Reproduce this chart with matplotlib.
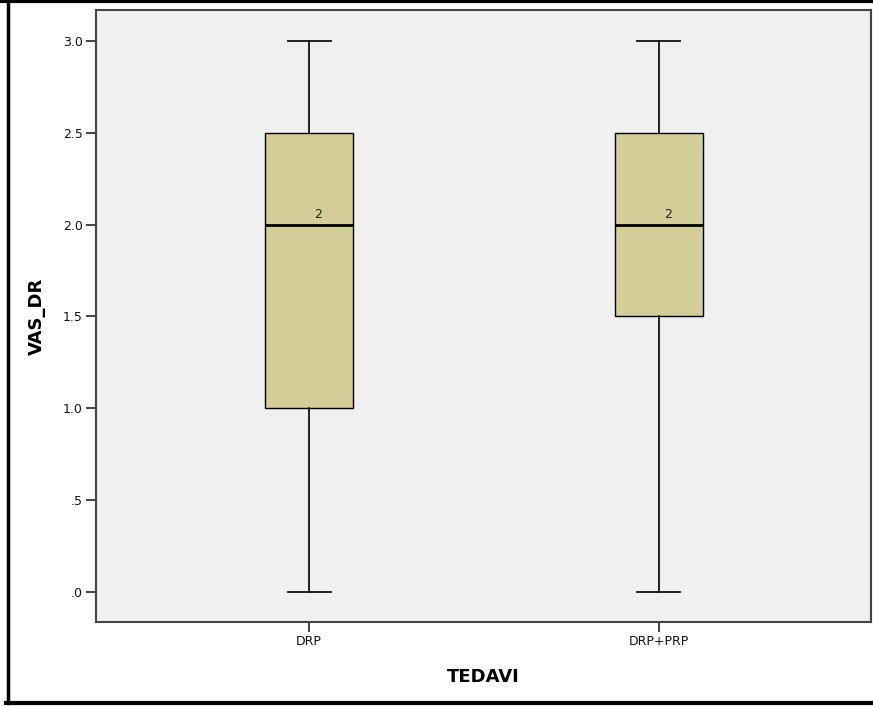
import matplotlib.pyplot as plt
from matplotlib.lines import Line2D

groups = ["DRP", "DRP+PRP"]
mins = [0.0, 0.0]
q1s = [1.0, 1.5]
medians = [2.0, 2.0]
q3s = [2.5, 2.5]
maxs = [3.0, 3.0]
yticks = [0.0, 0.5, 1.0, 1.5, 2.0, 2.5, 3.0]
ytick_labels = [".0", ".5", "1.0", "1.5", "2.0", "2.5", "3.0"]

fig = plt.figure(figsize=(8.73, 7.06), dpi=100)
W, H = 873, 706
ax = fig.add_axes([96 / W, 1 - 622 / H, (871 - 96) / W, (622 - 10) / H])
ax.set_facecolor("#f0f0f0")

stats = []
for i, g in enumerate(groups):
    stats.append(dict(label=g, whislo=mins[i], q1=q1s[i], med=medians[i],
                      q3=q3s[i], whishi=maxs[i], fliers=[]))

ax.bxp(stats, positions=[1, 2], widths=0.251, patch_artist=True,
       showfliers=False,
       boxprops=dict(facecolor="#d3ce97", edgecolor="black", linewidth=1),
       medianprops=dict(color="black", linewidth=2),
       whiskerprops=dict(color="#111111", linewidth=1.3),
       capprops=dict(color="#111111", linewidth=1.3),
       capwidths=0.123)

for i, m in enumerate(medians):
    ax.text(i + 1 + 0.027, m + 0.02, "%g" % m, fontsize=9, ha="center",
            va="bottom", color="#222222")

ax.set_xlim(0.391, 2.606)
ax.set_ylim(-0.163, 3.168)
ax.set_yticks(yticks)
ax.set_yticklabels(ytick_labels)
ax.tick_params(labelsize=9, colors="#333333", length=7.5, width=1.3, pad=2)
ax.tick_params(labelcolor="#111111")
for s in ax.spines.values():
    s.set_color("#444444")
    s.set_linewidth(1.5)

ax.set_ylabel("VAS_DR", fontsize=13, fontweight="bold", labelpad=12)
ax.set_xlabel("TEDAVI", fontsize=13, fontweight="bold", labelpad=14)

# outer frame
top = 1 - 1 / H
bot = 1 - 702.5 / H
fig.add_artist(Line2D([7.5 / W, 7.5 / W], [bot, top], transform=fig.transFigure,
                      color="black", linewidth=2.5))
fig.add_artist(Line2D([0, 1], [top, top], transform=fig.transFigure,
                      color="black", linewidth=3))
fig.add_artist(Line2D([6 / W, 1], [bot, bot], transform=fig.transFigure,
                      color="black", linewidth=3))

fig.savefig("out.png", dpi=100)
